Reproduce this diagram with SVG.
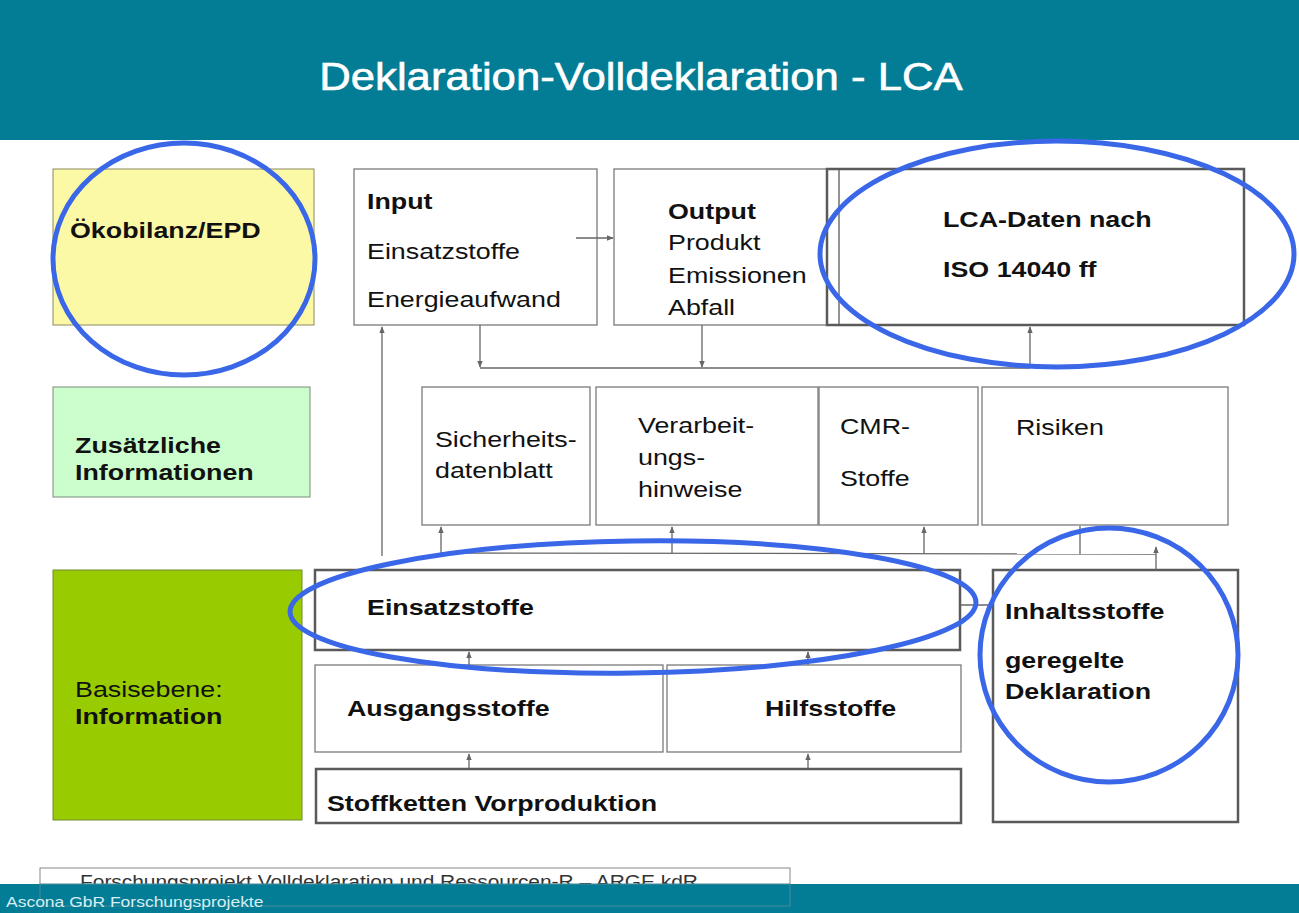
<svg xmlns="http://www.w3.org/2000/svg" width="1299" height="913" viewBox="0 0 1299 913">
  <defs>
    <marker id="arr" viewBox="0 0 10 10" refX="9" refY="5" markerWidth="7" markerHeight="7" orient="auto" markerUnits="userSpaceOnUse">
      <path d="M0,1 L10,5 L0,9 Z" fill="#666"/>
    </marker>
    <style>
      text { font-family: "Liberation Sans", Arial, sans-serif; fill: #111; transform-box: fill-box; transform-origin: 0 0; transform: scaleX(1.22); }
      .t { font-size: 22px; }
      .b { font-size: 22px; font-weight: bold; }
      .title { font-size: 38px; fill: #fff; stroke: #fff; stroke-width: 0.6; transform-origin: 50% 0; transform: scaleX(1.15); }
      .note { font-size: 19px; fill: #333; transform: scaleX(1.1); }
      .credit { font-size: 14px; fill: #d8eef2; transform: scaleX(1.25); }
      .box { fill: #fff; stroke: #7a7a7a; stroke-width: 1.3; }
      .bold-box { fill: #fff; stroke: #5a5a5a; stroke-width: 2.5; }
      .conn { stroke: #666; stroke-width: 1.3; fill: none; }
      .mark { fill: none; stroke: #3a67e8; stroke-width: 5; }
    </style>
  </defs>

  <rect width="1299" height="913" fill="#fff"/>

  <!-- header -->
  <rect x="0" y="0" width="1299" height="140" fill="#037d96"/>
  <text x="641" y="90" text-anchor="middle" class="title">Deklaration-Volldeklaration - LCA</text>

  <!-- left column -->
  <g id="oekobilanz">
    <rect x="53" y="169" width="261" height="156" fill="#fbf8a6" stroke="#8a8a60" stroke-width="1"/>
    <text x="70" y="238" class="b">Ökobilanz/EPD</text>
  </g>
  <g id="zusaetzlich">
    <rect x="53" y="387" width="257" height="110" fill="#ccfecd" stroke="#7a8a7a" stroke-width="1"/>
    <text x="75" y="453" class="b">Zusätzliche</text>
    <text x="75" y="480" class="b">Informationen</text>
  </g>
  <g id="basisebene">
    <rect x="53" y="570" width="249" height="250" fill="#99cc00" stroke="#6e8a30" stroke-width="1"/>
    <text x="75" y="697" class="t">Basisebene:</text>
    <text x="75" y="724" class="b">Information</text>
  </g>

  <!-- top row -->
  <g id="input">
    <rect x="354" y="169" width="243" height="156" class="box"/>
    <text x="367" y="209" class="b">Input</text>
    <text x="367" y="259" class="t">Einsatzstoffe</text>
    <text x="367" y="307" class="t">Energieaufwand</text>
  </g>
  <g id="output">
    <rect x="614" y="169" width="213" height="156" class="box"/>
    <text x="668" y="219" class="b">Output</text>
    <text x="668" y="250" class="t">Produkt</text>
    <text x="668" y="283" class="t">Emissionen</text>
    <text x="668" y="315" class="t">Abfall</text>
  </g>
  <g id="lca">
    <rect x="827" y="169" width="417" height="156" class="bold-box" stroke-width="2"/>
    <line x1="839" y1="169" x2="839" y2="325" stroke="#5a5a5a" stroke-width="1.3"/>
    <text x="943" y="227" class="b">LCA-Daten nach</text>
    <text x="943" y="277" class="b">ISO 14040 ff</text>
  </g>

  <!-- middle row -->
  <g id="sicherheit">
    <rect x="422" y="387" width="168" height="138" class="box"/>
    <text x="435" y="447" class="t">Sicherheits-</text>
    <text x="435" y="478" class="t">datenblatt</text>
  </g>
  <g id="verarbeitung">
    <rect x="596" y="387" width="222" height="138" class="box"/>
    <text x="638" y="433" class="t">Verarbeit-</text>
    <text x="638" y="465" class="t">ungs-</text>
    <text x="638" y="497" class="t">hinweise</text>
  </g>
  <g id="cmr">
    <rect x="819" y="387" width="159" height="138" class="box"/>
    <text x="840" y="434" class="t">CMR-</text>
    <text x="840" y="486" class="t">Stoffe</text>
  </g>
  <g id="risiken">
    <rect x="982" y="387" width="246" height="138" class="box"/>
    <text x="1016" y="435" class="t">Risiken</text>
  </g>

  <!-- base rows -->
  <g id="einsatzstoffe">
    <rect x="315" y="570" width="645" height="80" class="bold-box"/>
    <text x="367" y="615" class="b">Einsatzstoffe</text>
  </g>
  <g id="ausgangsstoffe">
    <rect x="315" y="665" width="348" height="87" class="box"/>
    <text x="347" y="716" class="b">Ausgangsstoffe</text>
  </g>
  <g id="hilfsstoffe">
    <rect x="667" y="665" width="294" height="87" class="box"/>
    <text x="765" y="716" class="b">Hilfsstoffe</text>
  </g>
  <g id="stoffketten">
    <rect x="316" y="769" width="645" height="54" class="bold-box"/>
    <text x="327" y="811" class="b">Stoffketten Vorproduktion</text>
  </g>
  <g id="inhaltsstoffe">
    <rect x="993" y="570" width="245" height="252" class="bold-box"/>
    <text x="1005" y="619" class="b">Inhaltsstoffe</text>
    <text x="1005" y="668" class="b">geregelte</text>
    <text x="1005" y="699" class="b">Deklaration</text>
  </g>

  <!-- connectors -->
  <g id="connectors" class="conn">
    <line x1="576" y1="238" x2="613" y2="238" marker-end="url(#arr)"/>
    <line x1="480" y1="325" x2="480" y2="367" marker-end="url(#arr)"/>
    <line x1="702" y1="325" x2="702" y2="367" marker-end="url(#arr)"/>
    <line x1="480" y1="368" x2="1030" y2="368"/>
    <line x1="1030" y1="368" x2="1030" y2="327" marker-end="url(#arr)"/>
    <line x1="382" y1="556" x2="382" y2="327" marker-end="url(#arr)"/>
    <line x1="441" y1="553" x2="1156" y2="554"/>
    <line x1="441" y1="553" x2="441" y2="527" marker-end="url(#arr)"/>
    <line x1="672" y1="553" x2="672" y2="527" marker-end="url(#arr)"/>
    <line x1="924" y1="554" x2="924" y2="527" marker-end="url(#arr)"/>
    <line x1="1080" y1="554" x2="1080" y2="526"/>
    <line x1="1156" y1="570" x2="1156" y2="547" marker-end="url(#arr)"/>
    <line x1="960" y1="605" x2="993" y2="605"/>
    <line x1="469" y1="665" x2="469" y2="652" marker-end="url(#arr)"/>
    <line x1="808" y1="665" x2="808" y2="652" marker-end="url(#arr)"/>
    <line x1="469" y1="769" x2="469" y2="754" marker-end="url(#arr)"/>
    <line x1="808" y1="769" x2="808" y2="754" marker-end="url(#arr)"/>
  </g>

  <!-- highlight rings -->
  <g id="highlights">
    <ellipse cx="184" cy="259" rx="131" ry="116" class="mark"/>
    <ellipse cx="1057" cy="254" rx="237" ry="113" class="mark"/>
    <ellipse cx="633" cy="607" rx="343" ry="66" class="mark" transform="rotate(-0.8 633 607)"/>
    <ellipse cx="1109" cy="655" rx="129" ry="127" class="mark"/>
  </g>

  <!-- footer -->
  <g id="footer">
    <rect x="40" y="868" width="750" height="38" fill="#fff" stroke="#888" stroke-width="1"/>
    <text x="80" y="888" class="note">Forschungsprojekt  Volldeklaration und Ressourcen-R – ARGE kdR</text>
    <rect x="0" y="884" width="1299" height="29" fill="#037d96"/>
    <rect x="40" y="884" width="750" height="22" fill="none" stroke="#4a8a9a" stroke-width="1"/>
    <text x="6" y="907" class="credit">Ascona GbR Forschungsprojekte</text>
  </g>
</svg>
